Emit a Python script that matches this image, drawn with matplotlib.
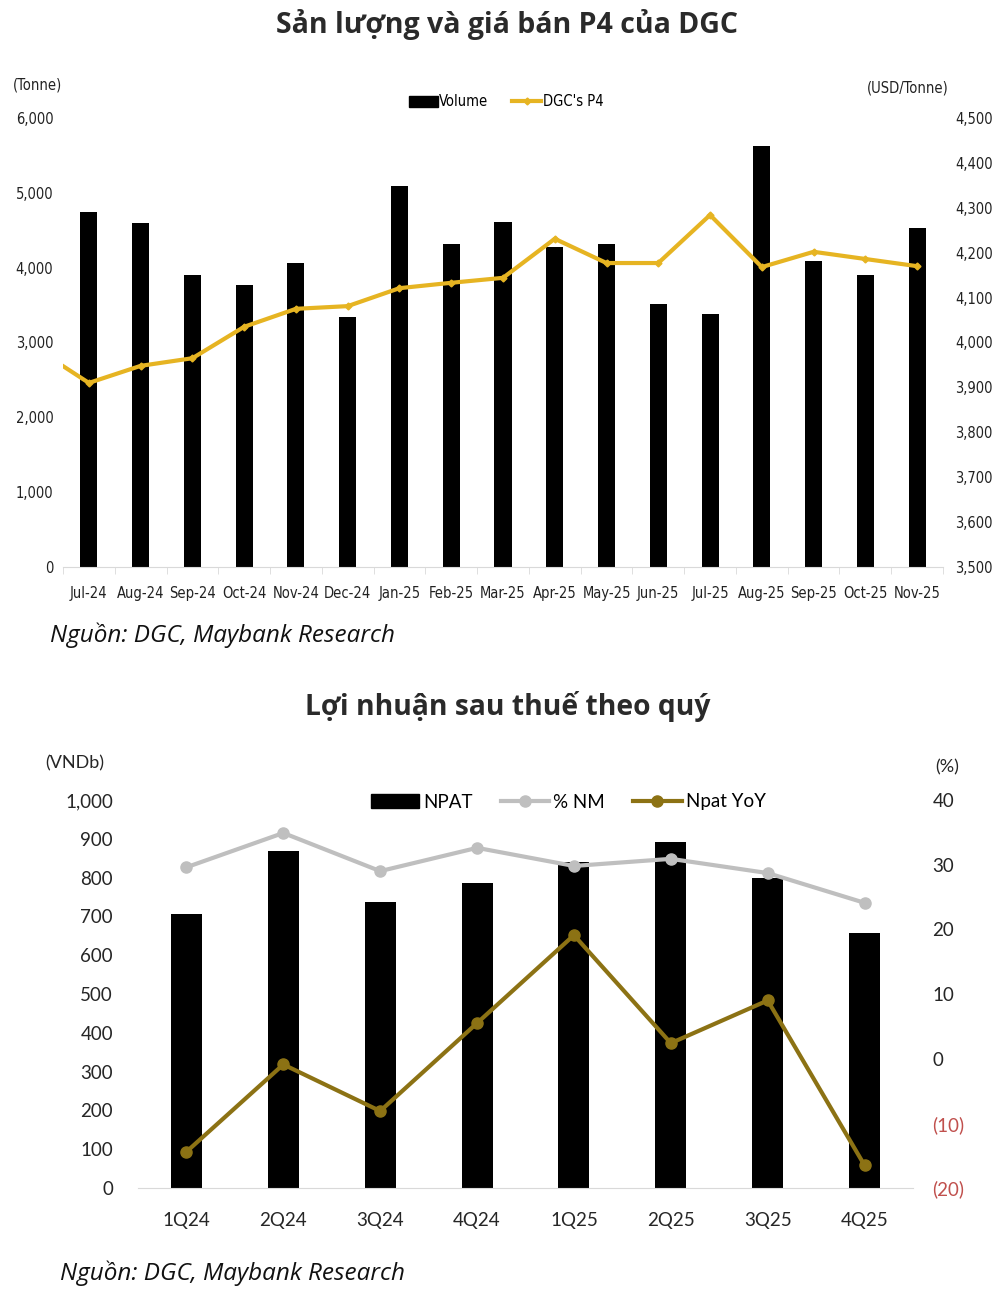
import numpy as np
import matplotlib.pyplot as plt
from matplotlib.patches import Patch
from matplotlib.lines import Line2D
from matplotlib.ticker import FuncFormatter, MultipleLocator

# --- data: chart 1 (monthly P4 volume & price) ---
months = ["Jul-24", "Aug-24", "Sep-24", "Oct-24", "Nov-24", "Dec-24", "Jan-25", "Feb-25",
          "Mar-25", "Apr-25", "May-25", "Jun-25", "Jul-25", "Aug-25", "Sep-25", "Oct-25", "Nov-25"]
volume = [4750, 4600, 3900, 3770, 4060, 3340, 5090, 4320,
          4610, 4270, 4320, 3520, 3380, 5630, 4090, 3900, 4530]
# price starts one month earlier (Jun-24), clipped at the left edge
price_prev = 3985
price = [3910, 3948, 3965, 4035, 4075, 4081, 4121, 4133,
         4144, 4231, 4177, 4177, 4284, 4168, 4202, 4186, 4170]

# --- data: chart 2 (quarterly NPAT) ---
quarters = ["1Q24", "2Q24", "3Q24", "4Q24", "1Q25", "2Q25", "3Q25", "4Q25"]
npat = [706, 869, 737, 786, 840, 892, 800, 657]
nm_pct = [29.6, 34.9, 29.0, 32.6, 29.8, 30.9, 28.7, 24.1]
npat_yoy = [-14.4, -0.9, -8.1, 5.5, 19.1, 2.4, 9.0, -16.5]

GOLD = "#E6B422"
GREY = "#BFBFBF"
OLIVE = "#8C7214"
NEG_RED = "#C0504D"
NARROW = dict(family=["DejaVu Sans"], stretch="condensed")
TITLE_FONT = ["Open Sans", "DejaVu Sans"]
BODY = ["Lato", "DejaVu Sans"]

fig = plt.figure(figsize=(10, 13.03), dpi=100)

def fy(px):
    return 1 - px / 1303

def narrow(lab, size=10.5):
    lab.set_family(NARROW["family"])
    lab.set_stretch(NARROW["stretch"])
    lab.set_fontsize(size)
    lab.set_color("#222222")

# ================= chart 1 =================
ax1 = fig.add_axes([0.063, fy(567), 0.880, fy(118) - fy(567)])
x = np.arange(len(months))
ax1.bar(x, volume, width=0.33, color="black", zorder=2)
ax1.set_xlim(-0.5, len(months) - 0.5)
ax1.set_ylim(0, 6000)
ax1.yaxis.set_major_locator(MultipleLocator(1000))
ax1.yaxis.set_major_formatter(FuncFormatter(lambda v, p: f"{v:,.0f}"))
ax1.set_xticks(x)
ax1.set_xticklabels(months)
ax1.set_xticks(np.arange(-0.5, len(months), 1), minor=True)
ax1.tick_params(axis="x", which="major", length=0, pad=14)
ax1.tick_params(axis="x", which="minor", length=5, color="#D9D9D9")
ax1.tick_params(axis="y", length=0, pad=7)
for s in ["top", "left", "right"]:
    ax1.spines[s].set_visible(False)
ax1.spines["bottom"].set_color("#D9D9D9")
for lab in ax1.get_xticklabels() + ax1.get_yticklabels():
    narrow(lab)

ax1b = ax1.twinx()
xp = np.arange(-1, len(months))
ax1b.plot(xp, [price_prev] + price, color=GOLD, lw=3, marker="D", ms=3.5, zorder=3)
ax1b.set_ylim(3500, 4500)
ax1b.yaxis.set_major_locator(MultipleLocator(100))
ax1b.yaxis.set_major_formatter(FuncFormatter(lambda v, p: f"{v:,.0f}"))
ax1b.tick_params(axis="y", length=0, pad=9)
for s in ["top", "left", "right", "bottom"]:
    ax1b.spines[s].set_visible(False)
ax1b.set_xlim(-0.5, len(months) - 0.5)
for lab in ax1b.get_yticklabels():
    narrow(lab)

fig.text(0.038, fy(85), "(Tonne)", ha="center", va="center", color="#222222", fontsize=10.5, **NARROW)
fig.text(0.908, fy(88), "(USD/Tonne)", ha="center", va="center", color="#222222", fontsize=10.5, **NARROW)
h1 = [Patch(color="black"), Line2D([], [], color=GOLD, lw=3, marker="D", ms=3.5)]
fig.legend(h1, ["Volume", "DGC's P4"], loc="center", bbox_to_anchor=(0.506, fy(102)),
           ncol=2, frameon=False, handlelength=2.0, handleheight=0.7, columnspacing=1.6,
           handletextpad=0.1, prop={"family": "DejaVu Sans", "stretch": "condensed", "size": 10.5})

fig.text(0.507, fy(25), "Sản lượng và giá bán P4 của DGC", ha="center", va="center",
         family=TITLE_FONT, fontsize=20.5, fontweight="bold", color="#2a2a2a")
fig.text(0.05, fy(635), "Nguồn: DGC, Maybank Research", ha="left", va="center",
         family=TITLE_FONT, style="italic", fontsize=17.5, color="#111111")

# ================= chart 2 =================
ax2 = fig.add_axes([0.138, fy(1188), 0.775, fy(800) - fy(1188)])
xq = np.arange(len(quarters))
ax2.bar(xq, npat, width=0.32, color="black", zorder=2)
ax2.set_xlim(-0.5, len(quarters) - 0.5)
ax2.set_ylim(0, 1000)
ax2.yaxis.set_major_locator(MultipleLocator(100))
ax2.yaxis.set_major_formatter(FuncFormatter(lambda v, p: f"{v:,.0f}"))
ax2.set_xticks(xq)
ax2.set_xticklabels(quarters)
ax2.tick_params(axis="x", length=0, pad=17)
ax2.tick_params(axis="y", length=0, pad=18)
for s in ["top", "left", "right"]:
    ax2.spines[s].set_visible(False)
ax2.spines["bottom"].set_color("#D9D9D9")
for lab in ax2.get_xticklabels() + ax2.get_yticklabels():
    lab.set_family(BODY)
    lab.set_fontsize(13.5)
    lab.set_color("#262626")

ax2b = ax2.twinx()
ax2b.plot(xq, nm_pct, color=GREY, lw=3, marker="o", ms=8, zorder=3)
ax2b.plot(xq, npat_yoy, color=OLIVE, lw=3, marker="o", ms=8, zorder=4)
ax2b.set_ylim(-20, 40)
ax2b.yaxis.set_major_locator(MultipleLocator(10))
ax2b.yaxis.set_major_formatter(FuncFormatter(lambda v, p: f"({abs(v):.0f})" if v < 0 else f"{v:.0f}"))
ax2b.tick_params(axis="y", length=0, pad=14)
for s in ["top", "left", "right", "bottom"]:
    ax2b.spines[s].set_visible(False)
for tv, lab in zip(ax2b.get_yticks(), ax2b.get_yticklabels()):
    lab.set_family(BODY)
    lab.set_fontsize(13.5)
    lab.set_color(NEG_RED if tv < 0 else "#262626")

fig.text(0.075, fy(763), "(VNDb)", ha="center", va="center", family=BODY, fontsize=13, color="#262626")
fig.text(0.947, fy(767), "(%)", ha="center", va="center", family=BODY, fontsize=13, color="#262626")
h2 = [Patch(color="black"),
      Line2D([], [], color=GREY, lw=3, marker="o", ms=8),
      Line2D([], [], color=OLIVE, lw=3, marker="o", ms=8)]
fig.legend(h2, ["NPAT", "% NM", "Npat YoY"], loc="center", bbox_to_anchor=(0.568, fy(802)),
           ncol=3, frameon=False, handlelength=2.6, handleheight=0.8, columnspacing=1.5,
           handletextpad=0.2, prop={"family": BODY, "size": 13.5})

fig.text(0.508, fy(706), "Lợi nhuận sau thuế theo quý", ha="center", va="center",
         family=TITLE_FONT, fontsize=20.3, fontweight="bold", color="#2a2a2a")
fig.text(0.06, fy(1273), "Nguồn: DGC, Maybank Research", ha="left", va="center",
         family=TITLE_FONT, style="italic", fontsize=17.5, color="#111111")

fig.savefig("out.png", dpi=100, facecolor="white")
